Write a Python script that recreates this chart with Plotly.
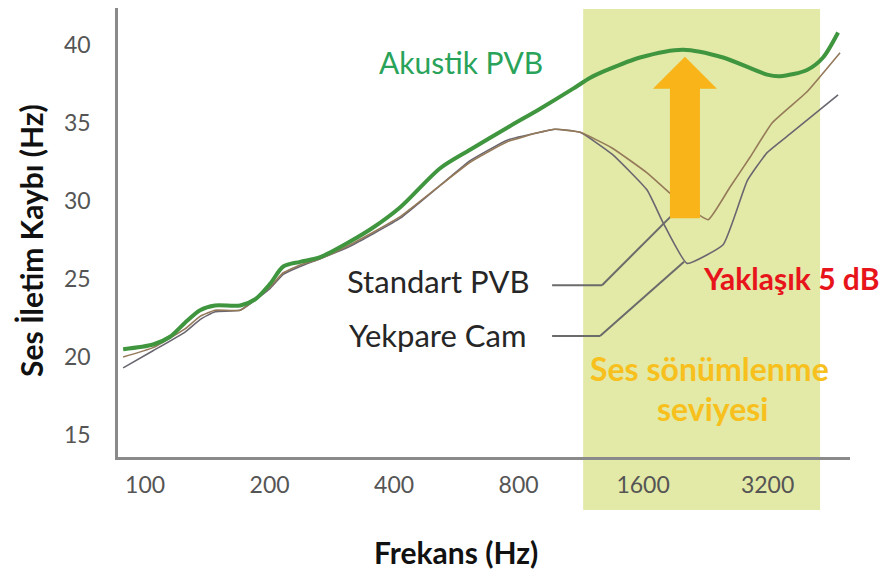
import math
import plotly.graph_objects as go

# ---------------- data ----------------
freq_akustik = [88.5, 104.5, 114.9, 124.9, 135.8, 147.6, 169.8, 184.6, 200.7, 215.8, 237, 265, 313, 356,
                414, 517, 612, 751, 900, 1084, 1192, 1310, 1573, 1999, 2498, 3191, 3430, 3986, 4358, 4738]
val_akustik = [20.5, 20.8, 21.3, 22.2, 23.0, 23.3, 23.3, 23.7, 24.7, 25.8, 26.1, 26.4, 27.4, 28.3,
               29.6, 32.1, 33.3, 34.7, 35.9, 37.2, 37.9, 38.4, 39.2, 39.7, 39.2, 38.1, 38.0, 38.4, 39.2, 40.8]

freq_standart = [88.5, 104.5, 124.9, 135.8, 147.6, 169.8, 200.7, 215.8, 237, 265, 313, 356, 414, 517, 612,
                 751, 900, 979, 1127, 1346, 1636, 1839, 2079, 2299, 2597, 2902, 3281, 3986, 4790]
val_standart = [20.0, 20.6, 21.8, 22.6, 23.0, 23.0, 24.5, 25.4, 25.9, 26.3, 27.2, 28.0, 29.0, 31.0, 32.5,
                33.8, 34.4, 34.6, 34.4, 33.4, 31.8, 30.6, 29.5, 28.8, 30.9, 32.8, 35.0, 37.0, 39.5]

freq_yekpare = [88.5, 104.5, 124.9, 135.8, 147.6, 169.8, 200.7, 215.8, 237, 265, 313, 356, 414, 517, 612,
                751, 900, 979, 1127, 1346, 1636, 1789, 2044, 2498, 2670, 2858, 3191, 3627, 4738]
val_yekpare = [19.3, 20.4, 21.6, 22.4, 22.9, 23.0, 24.4, 25.3, 25.8, 26.3, 27.1, 27.9, 28.9, 31.0, 32.6,
               33.9, 34.4, 34.6, 34.4, 33.0, 30.7, 28.6, 26.0, 27.2, 29.1, 31.3, 33.1, 34.3, 36.8]

x_tick_vals = [100, 200, 400, 800, 1600, 3200]
x_tick_text = ["100", "200", "400", "800", "1600", "3200"]
y_tick_vals = [15, 20, 25, 30, 35, 40]

band_freq = [1146, 4286]          # shaded "sound damping" band
arrow_freq = 2020                  # centre of the orange arrow
arrow_low, arrow_high = 28.9, 39.25
leader_std = [(964, 24.6), (1273, 24.6), (1865, 29.0)]
leader_yek = [(964, 21.35), (1259, 21.35), (2010, 26.1)]

FONT = "Lato"
W, H = 893, 575
ML, MR, MT, MB = 118, 43, 8, 118
PW, PH = W - ML - MR, H - MT - MB

fig = go.Figure()

fig.add_trace(go.Scatter(x=freq_yekpare, y=val_yekpare, mode="lines",
                         line=dict(color="#6a6670", width=1.6, shape="spline", smoothing=0.4),
                         name="Yekpare Cam", hoverinfo="skip"))
fig.add_trace(go.Scatter(x=freq_standart, y=val_standart, mode="lines",
                         line=dict(color="#957a5a", width=1.6, shape="spline", smoothing=0.4),
                         name="Standart PVB", hoverinfo="skip"))
fig.add_trace(go.Scatter(x=freq_akustik, y=val_akustik, mode="lines",
                         line=dict(color="#3f963f", width=4, shape="spline", smoothing=0.8),
                         name="Akustik PVB", hoverinfo="skip"))

shapes = []
shapes.append(dict(type="rect", xref="x", yref="paper", x0=band_freq[0], x1=band_freq[1],
                   y0=-0.118, y1=0.998, fillcolor="#e3e9a6", line=dict(width=0), layer="below"))
for pts in (leader_std, leader_yek):
    for (xa, ya), (xb, yb) in zip(pts[:-1], pts[1:]):
        shapes.append(dict(type="line", xref="x", yref="y", x0=xa, y0=ya, x1=xb, y1=yb,
                           line=dict(color="#6b6b6b", width=2)))
f = arrow_freq
sw = 2 ** (15 / 124.5)
hw = 2 ** (32 / 124.5)
head_base = 37.2
path = (f"M {f/sw},{arrow_low} L {f*sw},{arrow_low} L {f*sw},{head_base} L {f*hw},{head_base} "
        f"L {f},{arrow_high} L {f/hw},{head_base} L {f/sw},{head_base} Z")
shapes.append(dict(type="path", xref="x", yref="y", path=path, fillcolor="#f8b419",
                   line=dict(width=0), layer="above"))

ann = [
    dict(text="Akustik PVB", x=461, y=62, font=dict(family=FONT, size=30, color="#2aa35a")),
    dict(text="Standart PVB", x=438, y=281, font=dict(family=FONT, size=31, color="#262626")),
    dict(text="Yekpare Cam", x=437, y=335, font=dict(family=FONT, size=31, color="#262626")),
    dict(text="<b>Yaklaşık 5 dB</b>", x=791, y=278, font=dict(family=FONT, size=30, color="#e8141c")),
    dict(text="<b>Ses sönümlenme</b>", x=709, y=368, font=dict(family=FONT, size=32, color="#f7c01c")),
    dict(text="<b>seviyesi</b>", x=712, y=408, font=dict(family=FONT, size=32, color="#f7c01c")),
    dict(text="<b>Frekans (Hz)</b>", x=456, y=552, font=dict(family=FONT, size=30, color="#111111")),
    dict(text="<b>Ses İletim Kaybı (Hz)</b>", x=31, y=241, textangle=-90,
         font=dict(family=FONT, size=30, color="#111111")),
]
annotations = []
for a in ann:
    a = dict(a)
    px, py = a.pop("x"), a.pop("y")
    annotations.append(dict(a, x=(px - ML) / PW, y=(H - MB - py) / PH, xref="paper", yref="paper",
                            xanchor="center", yanchor="middle", showarrow=False))

fig.update_layout(
    width=W, height=H,
    margin=dict(l=ML, r=MR, t=MT, b=MB, autoexpand=False),
    paper_bgcolor="white", plot_bgcolor="white",
    showlegend=False,
    shapes=shapes,
    annotations=annotations,
    xaxis=dict(type="log", range=[math.log10(86.0), math.log10(5063)], automargin=False,
               tickvals=x_tick_vals, ticktext=x_tick_text, showgrid=False, zeroline=False,
               showline=True, linecolor="#8a8a8a", linewidth=2.5, ticks="",
               tickfont=dict(family=FONT, size=23, color="#555555"), ticklabelstandoff=6),
    yaxis=dict(range=[13.59, 42.37], tickvals=y_tick_vals, showgrid=False, zeroline=False,
               automargin=False,
               showline=True, linecolor="#8a8a8a", linewidth=2.5, ticks="",
               tickfont=dict(family=FONT, size=23, color="#555555"), ticklabelstandoff=20),
)

fig.write_html("out.html", config={"displayModeBar": False},
               post_script="document.body.style.margin='0px';")
